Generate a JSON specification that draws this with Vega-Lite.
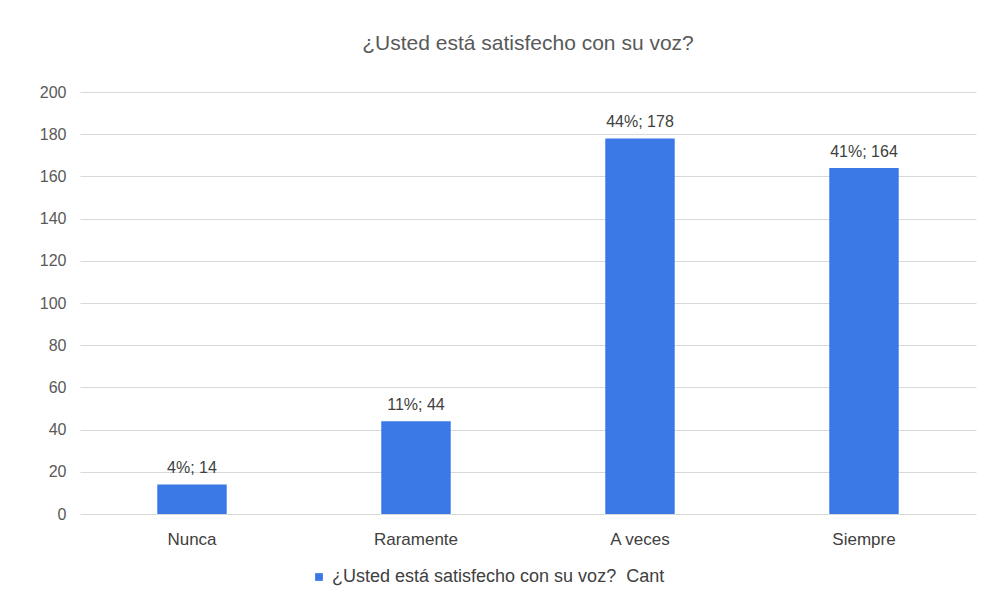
{
  "$schema": "https://vega.github.io/schema/vega-lite/v6.json",
  "autosize": {"type": "none"},
  "width": 896,
  "height": 422,
  "padding": {"left": 80, "top": 92, "right": 11, "bottom": 101},
  "background": "white",
  "config": {"view": {"stroke": null}},
  "title": {
    "text": "¿Usted está satisfecho con su voz?",
    "font": "Liberation Sans",
    "fontSize": 21,
    "fontWeight": "normal",
    "color": "#595959",
    "anchor": "middle",
    "offset": 30
  },
  "data": {
    "values": [
      {"categoria": "Nunca", "cant": 14, "etiqueta": "4%; 14", "serie": "¿Usted está satisfecho con su voz? \u00a0Cant"},
      {"categoria": "Raramente", "cant": 44, "etiqueta": "11%; 44", "serie": "¿Usted está satisfecho con su voz? \u00a0Cant"},
      {"categoria": "A veces", "cant": 178, "etiqueta": "44%; 178", "serie": "¿Usted está satisfecho con su voz? \u00a0Cant"},
      {"categoria": "Siempre", "cant": 164, "etiqueta": "41%; 164", "serie": "¿Usted está satisfecho con su voz? \u00a0Cant"}
    ]
  },
  "encoding": {
    "x": {
      "field": "categoria",
      "type": "nominal",
      "sort": null,
      "scale": {"paddingInner": 0.69, "paddingOuter": 0.345},
      "axis": {
        "title": null,
        "labelAngle": 0,
        "labelFont": "Liberation Sans",
        "labelFontSize": 17,
        "labelColor": "#404040",
        "labelPadding": 17,
        "domain": false,
        "ticks": false
      }
    },
    "y": {
      "field": "cant",
      "type": "quantitative",
      "scale": {"domain": [0, 200]},
      "axis": {
        "title": null,
        "values": [0, 20, 40, 60, 80, 100, 120, 140, 160, 180, 200],
        "labelFont": "Liberation Sans",
        "labelFontSize": 16,
        "labelColor": "#595959",
        "labelPadding": 14,
        "domain": false,
        "ticks": false,
        "gridColor": "#d9d9d9",
        "gridWidth": 1.2
      }
    }
  },
  "layer": [
    {
      "mark": {"type": "bar", "color": "#3a78e6"},
      "encoding": {
        "color": {
          "field": "serie",
          "type": "nominal",
          "scale": {"range": ["#3a78e6"]},
          "legend": {
            "title": null,
            "orient": "none",
            "legendX": 230,
            "legendY": 476,
            "symbolType": "square",
            "symbolSize": 60,
            "symbolStrokeWidth": 0,
            "labelFont": "Liberation Sans",
            "labelFontSize": 18,
            "labelColor": "#404040",
            "labelOffset": 4,
            "labelLimit": 0
          }
        }
      }
    },
    {
      "mark": {
        "type": "text",
        "baseline": "bottom",
        "dy": -8,
        "font": "Liberation Sans",
        "fontSize": 16,
        "color": "#404040"
      },
      "encoding": {"text": {"field": "etiqueta"}}
    }
  ]
}
